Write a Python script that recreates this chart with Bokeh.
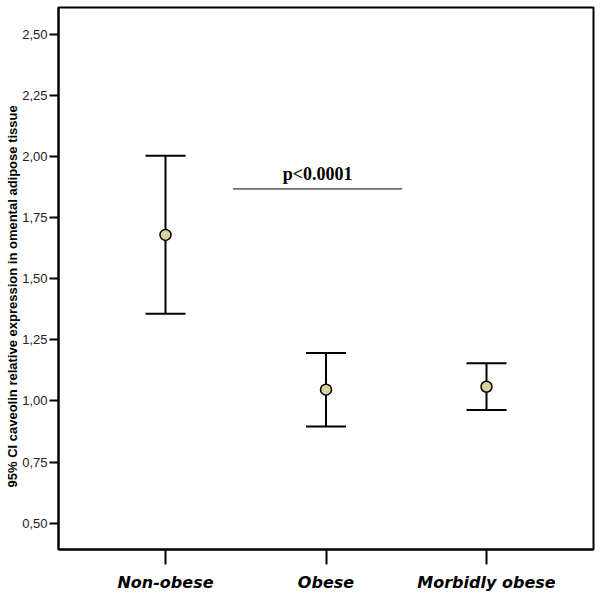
from bokeh.plotting import figure
from bokeh.models import ColumnDataSource, Whisker, TeeHead, FixedTicker, Range1d, Title
from bokeh.core.properties import value
from bokeh.embed import file_html
from bokeh.resources import INLINE

# ---- data ----
groups = ["Non-obese", "Obese", "Morbidly obese"]
group_pos = [1, 2, 3]
means = [1.679, 1.046, 1.058]
ci_upper = [2.003, 1.196, 1.154]
ci_lower = [1.357, 0.896, 0.963]

y_ticks = [0.50, 0.75, 1.00, 1.25, 1.50, 1.75, 2.00, 2.25, 2.50]
y_tick_labels = ["0,50", "0,75", "1,00", "1,25", "1,50", "1,75", "2,00", "2,25", "2,50"]

p_label = "p<0.0001"
p_bracket_x = [1.42, 2.475]
p_bracket_y = 1.867

y_title = "95% CI caveolin relative expression in omental adipose tissue"

src = ColumnDataSource(dict(x=group_pos, mean=means, upper=ci_upper, lower=ci_lower))

p = figure(width=600, height=594, output_backend="svg", toolbar_location=None,
           x_range=Range1d(1/3, 11/3), y_range=Range1d(0.3925, 2.609),
           min_border_left=58, min_border_right=7, min_border_top=7, min_border_bottom=45)
p.background_fill_color = "white"
p.border_fill_color = "white"
p.xgrid.visible = False
p.ygrid.visible = False
p.outline_line_color = "black"
p.outline_line_width = 2

# axes
p.xaxis.ticker = FixedTicker(ticks=group_pos)
p.xaxis.major_label_overrides = {g_pos: g for g_pos, g in zip(group_pos, groups)}
p.xaxis.major_tick_out = 15
p.xaxis.major_tick_in = 0
p.xaxis.minor_tick_line_color = None
p.xaxis.minor_tick_out = 0
p.xaxis.axis_line_width = 2
p.xaxis.major_tick_line_width = 2
p.xaxis.major_label_text_font = "DejaVu Sans"
p.xaxis.major_label_text_font_style = "bold italic"
p.xaxis.major_label_text_font_size = "16px"
p.xaxis.major_label_text_color = "black"
p.xaxis.major_label_standoff = 8
p.xaxis.axis_label_standoff = 0

p.yaxis.ticker = FixedTicker(ticks=y_ticks)
p.yaxis.major_label_overrides = {t: l for t, l in zip(y_ticks, y_tick_labels)}
p.yaxis.major_tick_out = 9
p.yaxis.major_tick_in = 0
p.yaxis.minor_tick_line_color = None
p.yaxis.minor_tick_out = 0
p.yaxis.axis_line_width = 2
p.yaxis.major_tick_line_width = 2
p.yaxis.major_label_text_font = "Liberation Sans"
p.yaxis.major_label_text_font_size = "13px"
p.yaxis.major_label_text_color = "#222222"
p.yaxis.major_label_standoff = 2

# y-axis title as a side title (sits slightly below the frame centre, as in the original)
p.add_layout(Title(text=y_title, align="left", offset=62, standoff=0,
                   text_font="Liberation Sans", text_font_style="bold",
                   text_font_size="13px", text_color="black"), "left")

# error bars
w = Whisker(source=src, base="x", upper="upper", lower="lower", dimension="height",
            line_color="black", line_width=2,
            upper_head=TeeHead(size=40, line_width=2, line_color="black"),
            lower_head=TeeHead(size=40, line_width=2, line_color="black"))
p.add_layout(w)

p.scatter("x", "mean", source=src, size=11, fill_color="#d9d39b",
          line_color="black", line_width=1.5)

# significance bracket
p.segment(x0=[p_bracket_x[0]], y0=[p_bracket_y], x1=[p_bracket_x[1]], y1=[p_bracket_y],
          line_color="black", line_width=1)
p.text(x=[sum(p_bracket_x) / 2], y=[p_bracket_y], text=[p_label],
       text_font=value("Liberation Serif"), text_font_style="bold",
       text_font_size="18px", text_align="center", text_baseline="bottom",
       y_offset=-5, text_color="black")

open("out.html", "w").write(file_html(p, INLINE))
